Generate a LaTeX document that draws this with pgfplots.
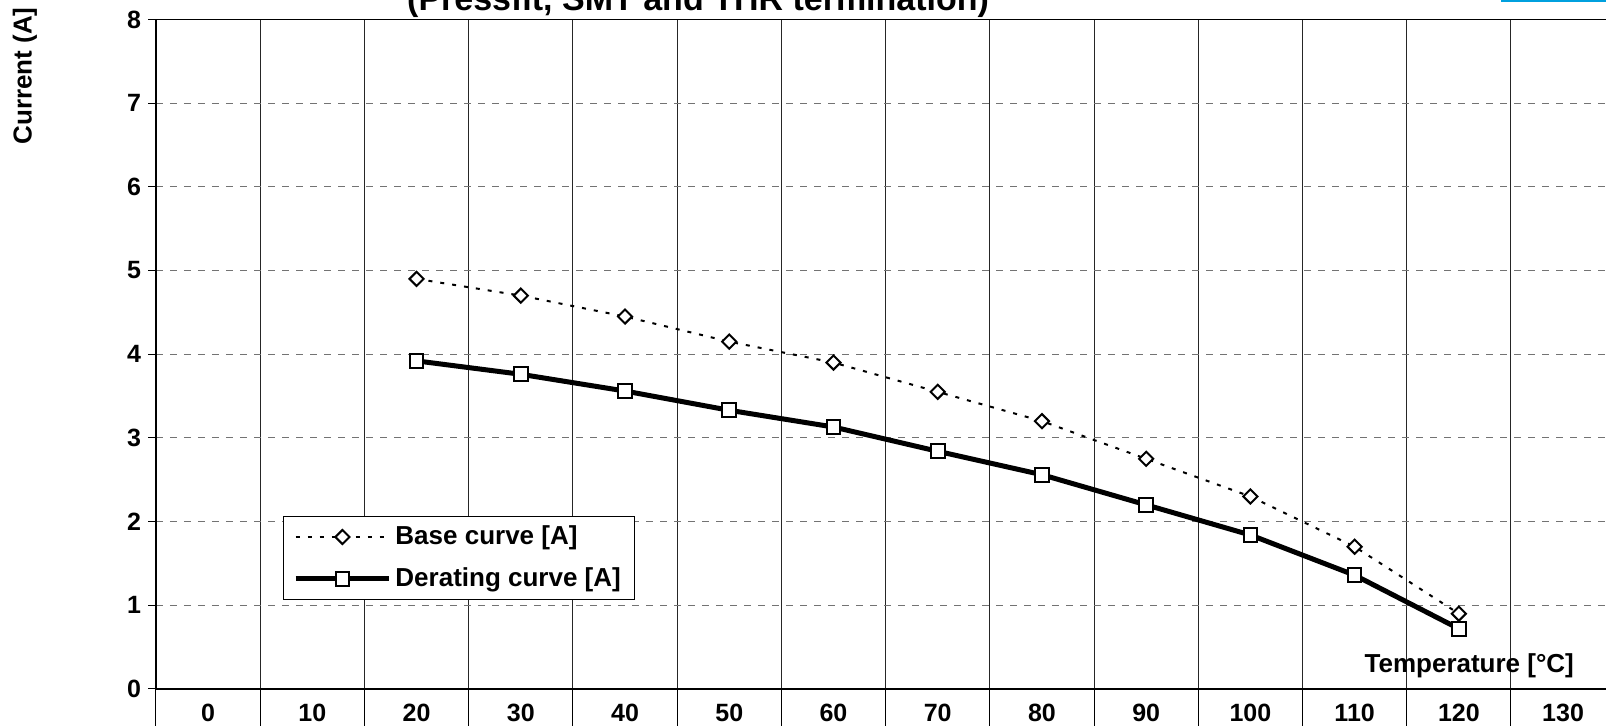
\documentclass[border=0pt]{standalone}
\usepackage{fontspec}
\setmainfont{Liberation Sans}
\usepackage{pgfplots}
\pgfplotsset{compat=1.18}
\definecolor{topcyan}{RGB}{0,160,222}

\pgfplotstableread{
x   base  derating
2   4.90  3.92
3   4.70  3.76
4   4.45  3.56
5   4.15  3.33
6   3.90  3.13
7   3.55  2.84
8   3.20  2.56
9   2.75  2.20
10  2.30  1.84
11  1.70  1.36
12  0.90  0.72
}\curvedata

\begin{document}
\begin{tikzpicture}
\begin{axis}[
    at={(78pt,18.5pt)}, anchor=south west,
    scale only axis, width=729.6pt, height=334.8pt,
    clip mode=individual,
    xmin=-0.5, xmax=13.5, ymin=0, ymax=8,
    xtick={0,...,13},
    xticklabels={0,10,20,30,40,50,60,70,80,90,100,110,120,130},
    minor xtick={-0.5,0.5,...,13.5},
    ytick={0,...,8},
    tick pos=left, tick align=outside,
    major tick length=4pt, minor tick length=18.5pt,
    every major x tick/.append style={draw=none},
    every minor x tick/.append style={black, line width=0.5pt},
    every major y tick/.append style={black, line width=0.5pt},
    xminorgrids, ymajorgrids,
    minor grid style={black!85, line width=0.5pt},
    major grid style={black!55, line width=0.5pt, dash pattern=on 3.5pt off 3.5pt},
    axis line style={black, line width=0.7pt},
    /pgf/number format/assume math mode=true,
    tick label style={font=\bfseries\fontsize{12.5}{14}\selectfont},
    xlabel={Temperature [°C]},
    xlabel style={at={(axis description cs:0.90,0.034)}, anchor=center,
        font=\bfseries\fontsize{13}{15}\selectfont},
    ylabel={Current (A]},
    ylabel style={at={(axis description cs:-0.0898,0.9155)}, anchor=center,
        font=\bfseries\fontsize{13}{15}\selectfont},
    legend style={at={(axis description cs:0.087,0.259)}, anchor=north west,
        draw=black, line width=0.5pt, fill=white,
        font=\bfseries\fontsize{13}{15}\selectfont,
        inner xsep=5pt, inner ysep=3pt, row sep=6pt,
        cells={anchor=west}},
    legend image code/.code={
        \draw[#1] (0pt,0pt) -- (46.5pt,0pt);
        \draw[#1, mark repeat=2, mark phase=2] plot coordinates {(0pt,0pt) (23.25pt,0pt) (46.5pt,0pt)};
    },
]
\addplot[black, line width=1pt, dash pattern=on 2pt off 4pt,
    mark=square*, mark size=2.5pt,
    mark options={solid, fill=white, rotate=45, line width=1pt}]
    table[x=x, y=base] {\curvedata};
\addlegendentry{Base curve [A]}
\addplot[black, line width=2.5pt,
    mark=square*, mark size=3.4pt,
    mark options={solid, fill=white, line width=1pt}]
    table[x=x, y=derating] {\curvedata};
\addlegendentry{Derating curve [A]}
\draw[black, line width=1pt] (rel axis cs:0,0) -- (rel axis cs:0,1);
\node[anchor=base, font=\bfseries\fontsize{17}{20}\selectfont]
    at (axis description cs:0.3715,1.0135) {(Pressfit, SMT and THR termination)};
\end{axis}
\draw[topcyan, line width=1pt] (750.5pt,362.5pt) -- (803pt,362.5pt);
\pgfresetboundingbox
\useasboundingbox (0,0) rectangle (803pt,363pt);
\end{tikzpicture}
\end{document}
